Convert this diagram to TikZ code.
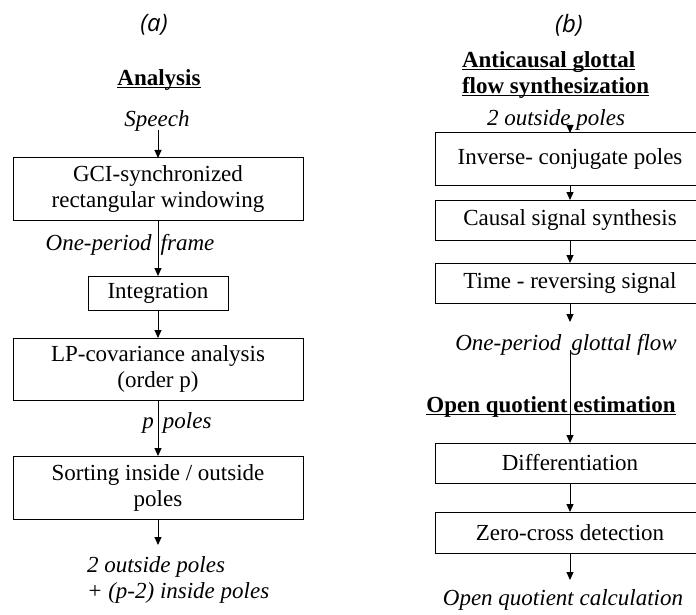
\documentclass[tikz,border=0pt]{standalone}
\usepackage{fontspec}
\setmainfont{Liberation Serif}
\newfontfamily\abfont{Open Sans}
\usetikzlibrary{arrows.meta}
\newcommand\myul[1]{\setbox0\hbox{#1}\rlap{\rule[-2.5pt]{\wd0}{1.1pt}}\box0}
\begin{document}
\begin{tikzpicture}[x=1pt,y=-1pt,
  every node/.style={inner sep=0pt, outer sep=0pt, font=\fontsize{23}{26}\selectfont},
  box/.style={draw=black, line width=1pt, align=center, minimum width=#1},
  lab/.style={font=\fontsize{23}{26}\selectfont\itshape, align=center},
  head/.style={font=\fontsize{23}{26}\selectfont\bfseries, align=left},
  tag/.style={font=\fontsize{24}{26}\selectfont\abfont\itshape},
  arr/.style={line width=1pt, -{Triangle[length=8pt,width=7pt]}}
]
\clip (0,0) rectangle (696,615);
\fill[white] (0,0) rectangle (696,615);

% ---------- (a) ----------
\node[tag] (ta) at (154,25) {(a)};
\node[head] (ha) at (159,80) {\myul{Analysis}};
\node[lab] (speech) at (157,121) {Speech};
\node[box=290pt, minimum height=62pt] (win) at (158,189) {GCI-synchronized\\rectangular windowing};
\node[lab] (frame) at (130,245) {One-period\hspace{9pt}frame};
\node[box=140pt, minimum height=34pt] (integ) at (158,293) {Integration};
\node[box=290pt, minimum height=62pt] (lp) at (158,369) {LP-covariance analysis\\(order p)};
\node[lab] (pp) at (177,423) {p\hspace{9pt}poles};
\node[box=290pt, minimum height=63pt] (sort) at (158,487.5) {Sorting inside / outside\\poles};
\node[lab, align=left, anchor=west] (outa) at (87,580) {\hspace{0pt}2 outside poles\\+ (p-2) inside poles};

\coordinate (sa) at (158,130);
\coordinate (ea) at (158,545);
\draw[arr] (sa) -- (win.north);
\draw[arr] (win.south) -- (integ.north);
\draw[arr] (integ.south) -- (lp.north);
\draw[arr] (lp.south) -- (sort.north);
\draw[arr] (sort.south) -- (ea);

% ---------- (b) ----------
\node[tag] (tb) at (569,25) {(b)};
\node[head, anchor=west] (hb) at (462,75.5) {\myul{Anticausal glottal}\\\myul{flow synthesization}};
\node[lab] (outb) at (556,120) {2 outside poles};
\node[box=270pt, minimum height=52pt] (inv) at (570,159) {Inverse- conjugate poles};
\node[box=270pt, minimum height=40pt] (caus) at (570,220) {Causal signal synthesis};
\node[box=270pt, minimum height=40pt] (trev) at (570,283) {Time - reversing signal};
\node[lab] (flow) at (566,345) {One-period\hspace{10pt}glottal flow};
\node[head] (hoq) at (551,407) {\myul{Open quotient estimation}};
\node[box=270pt, minimum height=40pt] (diff) at (570,463) {Differentiation};
\node[box=270pt, minimum height=41pt] (zero) at (570,532.5) {Zero-cross detection};
\node[lab] (oqc) at (563,600) {Open quotient calculation};

\coordinate (sb) at (570,128);
\coordinate (fb) at (570,322);
\coordinate (gb) at (570,350);
\coordinate (eb) at (570,580);
\draw[arr] (sb) -- (inv.north);
\draw[arr] (inv.south) -- (caus.north);
\draw[arr] (caus.south) -- (trev.north);
\draw[arr] (trev.south) -- (fb);
\draw[arr] (gb) -- (diff.north);
\draw[arr] (diff.south) -- (zero.north);
\draw[arr] (zero.south) -- (eb);
\end{tikzpicture}
\end{document}
